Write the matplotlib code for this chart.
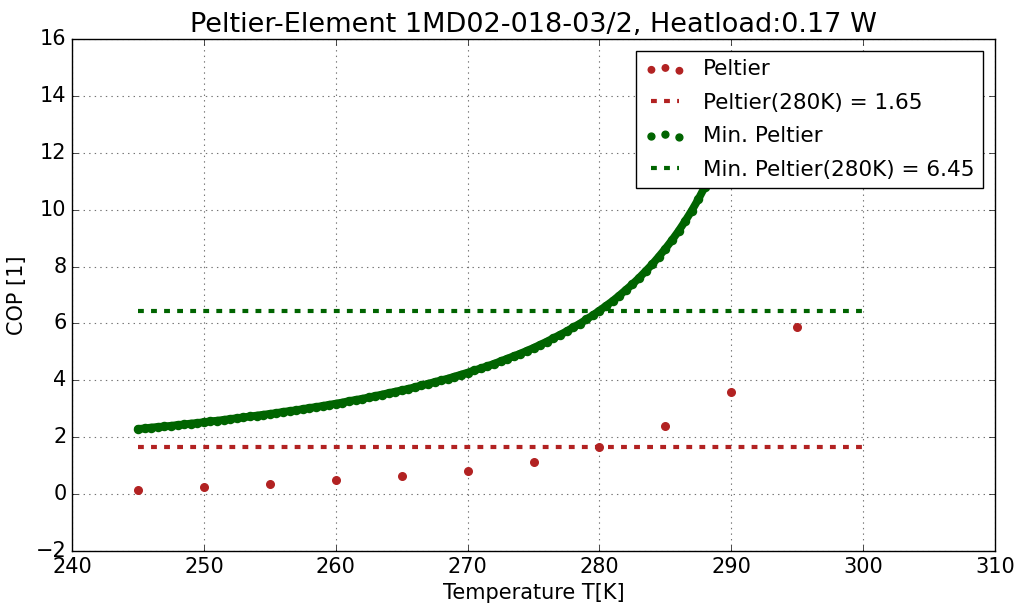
import matplotlib
matplotlib.use("Agg")
import matplotlib.pyplot as plt
import numpy as np

plt.style.use("classic")
plt.rcParams["lines.scale_dashes"] = False

# --- data ---
t_peltier = [245, 250, 255, 260, 265, 270, 275, 280, 285, 290, 295]
cop_peltier = [0.15, 0.25, 0.35, 0.48, 0.63, 0.82, 1.13, 1.66, 2.40, 3.59, 5.87]

t_min = np.arange(245.0, 291.01, 0.5)
cop_min = [
    2.29, 2.31, 2.34, 2.36, 2.38, 2.40, 2.43, 2.45, 2.48, 2.50,
    2.53, 2.56, 2.58, 2.61, 2.64, 2.67, 2.70, 2.73, 2.76, 2.79,
    2.82, 2.85, 2.89, 2.92, 2.95, 2.99, 3.03, 3.06, 3.10, 3.14,
    3.18, 3.22, 3.27, 3.31, 3.35, 3.40, 3.45, 3.50, 3.55, 3.60,
    3.65, 3.70, 3.76, 3.82, 3.88, 3.94, 4.00, 4.06, 4.13, 4.20,
    4.27, 4.35, 4.42, 4.50, 4.58, 4.67, 4.76, 4.85, 4.94, 5.04,
    5.14, 5.25, 5.36, 5.48, 5.60, 5.72, 5.86, 5.99, 6.14, 6.29,
    6.45, 6.62, 6.79, 6.98, 7.18, 7.38, 7.60, 7.84, 8.08, 8.35,
    8.63, 8.93, 9.25, 9.60, 9.97, 10.37, 10.81, 11.28, 11.80, 12.36,
    12.99, 13.67, 14.44,
]

ref_peltier = 1.65
ref_min = 6.45
ref_range = [245, 300]

red = "#b22222"
green = "#006400"

fig = plt.figure(figsize=(10.19, 6.06), dpi=100, facecolor="white")
ax = fig.add_axes([0.0707, 0.0908, 0.9058, 0.8448])

n = len(cop_min)
ax.plot(t_min[:n], cop_min, color=green, lw=5.6, solid_capstyle="round", zorder=2)
ax.scatter(t_peltier, cop_peltier, s=30, color=red, edgecolor=red,
           label="Peltier", zorder=3)
ax.plot(ref_range, [ref_peltier] * 2, color=red, lw=3, dashes=(4.2, 5.2),
        label=f"Peltier(280K) = {ref_peltier}", zorder=2)
ax.scatter(t_min[:n], cop_min, s=34, color=green, edgecolor=green,
           label="Min. Peltier", zorder=3)
ax.plot(ref_range, [ref_min] * 2, color=green, lw=3, dashes=(4.2, 5.2),
        label=f"Min. Peltier(280K) = {ref_min}", zorder=2)

ax.set_xlim(240, 310)
ax.set_ylim(-2, 16)
ax.set_xticks(np.arange(240, 311, 10))
ax.set_yticks(np.arange(-2, 17, 2))
ax.tick_params(labelsize=15)
ax.grid(True, color="0.45", linestyle=":", lw=0.8)
ax.set_axisbelow(True)

ax.set_title("Peltier-Element 1MD02-018-03/2, Heatload:0.17 W", fontsize=19.5)
ax.set_xlabel("Temperature T[K]", fontsize=15)
ax.set_ylabel("COP [1]", fontsize=15, labelpad=6)

leg = ax.legend(loc="upper right", fontsize=15.5, scatterpoints=3,
                handlelength=1.9, borderaxespad=0.55, fancybox=False,
                numpoints=3, labelspacing=0.62, markerscale=0.85)
leg.get_frame().set_edgecolor("black")
leg.set_zorder(10)

fig.savefig("out.png", dpi=100, facecolor="white")
